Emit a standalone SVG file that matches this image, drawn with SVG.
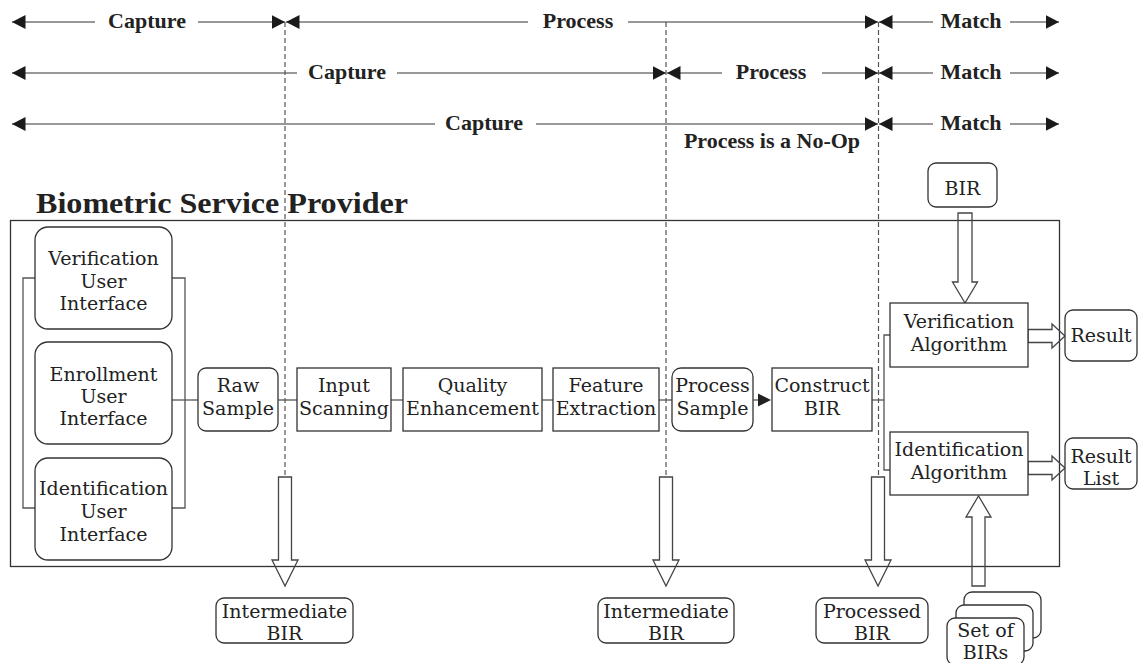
<svg xmlns="http://www.w3.org/2000/svg" xmlns:xlink="http://www.w3.org/1999/xlink" width="1139" height="663" viewBox="0 0 1139 663">
  <style>
    .phase { font-family: "Liberation Serif", "Times New Roman", serif; font-weight: bold; font-size: 22px; fill: #222; text-anchor: middle; }
    .title { font-family: "Liberation Serif", "Times New Roman", serif; font-weight: bold; font-size: 30px; fill: #222; }
    .lbl { font-family: "DejaVu Serif", "Liberation Serif", serif; font-size: 19px; fill: #222; text-anchor: middle; }
    .box { fill: #fff; stroke: #333; stroke-width: 1.3; }
    .frame { fill: none; stroke: #333; stroke-width: 1.3; }
    .link { fill: none; stroke: #555; stroke-width: 1.3; }
    .span1 { fill: none; stroke: #333; stroke-width: 1.2; }
    .span2 { fill: none; stroke: #777; stroke-width: 1.5; }
    .divider { fill: none; stroke: #555; stroke-width: 1.2; stroke-dasharray: 5 3; }
    .block { fill: none; stroke: #444; stroke-width: 1.3; stroke-linejoin: miter; }
  </style>
  <defs>
    <marker id="head" markerUnits="userSpaceOnUse" markerWidth="15" markerHeight="15" refX="13.5" refY="7" orient="auto">
      <path d="M0,0 L13.5,7 L0,14 Z" fill="#1a1a1a"/>
    </marker>
    <!-- hollow block arrows, drawn from their tail -->
    <path id="downArrow" d="M-6.5,0 H6.5 V83 H13 L0,109 L-13,83 H-6.5 Z"/>
    <path id="rightArrow" d="M0,-6.5 H24 V-12 L37,0 L24,12 V6.5 H0 Z"/>
  </defs>

  <!-- phase spans -->
  <g id="phase-spans">
    <!-- row 1 -->
    <path class="span1" d="M95,22 H12" marker-end="url(#head)"/>
    <path class="span1" d="M198,22 H285" marker-end="url(#head)"/>
    <path class="span1" d="M528,22 H286" marker-end="url(#head)"/>
    <path class="span1" d="M628,22 H878" marker-end="url(#head)"/>
    <path class="span1" d="M933,22 H879" marker-end="url(#head)"/>
    <path class="span1" d="M1010,22 H1059" marker-end="url(#head)"/>
    <text class="phase" x="147" y="28">Capture</text>
    <text class="phase" x="578" y="28">Process</text>
    <text class="phase" x="971" y="28">Match</text>
    <!-- row 2 -->
    <path class="span2" d="M297,73 H12" marker-end="url(#head)"/>
    <path class="span2" d="M397,73 H666" marker-end="url(#head)"/>
    <path class="span2" d="M722,73 H667" marker-end="url(#head)"/>
    <path class="span2" d="M822,73 H878" marker-end="url(#head)"/>
    <path class="span2" d="M933,73 H879" marker-end="url(#head)"/>
    <path class="span2" d="M1010,73 H1059" marker-end="url(#head)"/>
    <text class="phase" x="347" y="79">Capture</text>
    <text class="phase" x="771" y="79">Process</text>
    <text class="phase" x="971" y="79">Match</text>
    <!-- row 3 -->
    <path class="span2" d="M435,124 H12" marker-end="url(#head)"/>
    <path class="span2" d="M536,124 H878" marker-end="url(#head)"/>
    <path class="span2" d="M933,124 H879" marker-end="url(#head)"/>
    <path class="span2" d="M1010,124 H1059" marker-end="url(#head)"/>
    <text class="phase" x="484" y="130">Capture</text>
    <text class="phase" x="971" y="130">Match</text>
    <text class="phase" x="772" y="148">Process is a No-Op</text>
  </g>

  <!-- service provider frame -->
  <g id="bsp">
    <text class="title" x="36" y="213" textLength="372" lengthAdjust="spacingAndGlyphs">Biometric Service Provider</text>
    <rect class="frame" x="10.5" y="220.5" width="1049" height="346"/>
  </g>

  <!-- connectors -->
  <g id="connectors">
    <!-- user interface bracket -->
    <path class="link" d="M35,278 H23 V508 H35"/>
    <path class="link" d="M172,278 H185 V508 H172"/>
    <path class="link" d="M172,400 H198"/>
    <path class="link" d="M278,400 H297"/>
    <path class="link" d="M391,400 H403"/>
    <path class="link" d="M542,400 H553"/>
    <path class="link" d="M659,400 H672"/>
    <path class="link" d="M753,400 H760"/>
    <path d="M758,393.5 L771,400 L758,406.5 Z" fill="#222"/>
    <path class="link" d="M872,400 H884"/>
    <path class="link" d="M890,335 H884 V470 H890"/>
    <!-- stage boundaries -->
    <path class="divider" d="M285,22 V477"/>
    <path class="divider" d="M666,22 V477"/>
    <path class="divider" d="M878.5,22 V477"/>
    <!-- BIR outputs -->
    <use xlink:href="#downArrow" class="block" x="285" y="477"/>
    <use xlink:href="#downArrow" class="block" x="666" y="477"/>
    <use xlink:href="#downArrow" class="block" x="878" y="477"/>
    <!-- BIR input to verification -->
    <path class="block" d="M958,213 H972 V282 H977.5 L965,303 L952.5,282 H958 Z"/>
    <!-- set of BIRs to identification -->
    <path class="block" d="M972,586 H985 V517 H991 L978.5,496 L966,517 H972 Z"/>
    <!-- results -->
    <use xlink:href="#rightArrow" class="block" x="1028" y="336"/>
    <use xlink:href="#rightArrow" class="block" x="1028" y="468"/>
  </g>

  <!-- user interfaces -->
  <g id="verification-ui">
    <rect class="box" x="35" y="227" width="137" height="102" rx="13"/>
    <text class="lbl" x="103.5" y="265">Verification</text>
    <text class="lbl" x="103.5" y="288">User</text>
    <text class="lbl" x="103.5" y="310">Interface</text>
  </g>
  <g id="enrollment-ui">
    <rect class="box" x="35" y="342" width="137" height="102" rx="13"/>
    <text class="lbl" x="103.5" y="381">Enrollment</text>
    <text class="lbl" x="103.5" y="403">User</text>
    <text class="lbl" x="103.5" y="425">Interface</text>
  </g>
  <g id="identification-ui">
    <rect class="box" x="35" y="458" width="137" height="102" rx="13"/>
    <text class="lbl" x="103.5" y="495">Identification</text>
    <text class="lbl" x="103.5" y="518">User</text>
    <text class="lbl" x="103.5" y="541">Interface</text>
  </g>

  <!-- capture / process pipeline -->
  <g id="raw-sample">
    <rect class="box" x="198" y="368" width="80" height="63" rx="8"/>
    <text class="lbl" x="238" y="392">Raw</text>
    <text class="lbl" x="238" y="415">Sample</text>
  </g>
  <g id="input-scanning">
    <rect class="box" x="297" y="368" width="94" height="63"/>
    <text class="lbl" x="344" y="392">Input</text>
    <text class="lbl" x="344" y="415">Scanning</text>
  </g>
  <g id="quality-enhancement">
    <rect class="box" x="403" y="368" width="139" height="63"/>
    <text class="lbl" x="472.5" y="392">Quality</text>
    <text class="lbl" x="472.5" y="415">Enhancement</text>
  </g>
  <g id="feature-extraction">
    <rect class="box" x="553" y="368" width="106" height="63"/>
    <text class="lbl" x="606" y="392">Feature</text>
    <text class="lbl" x="606" y="415">Extraction</text>
  </g>
  <g id="process-sample">
    <rect class="box" x="672" y="368" width="81" height="63" rx="9"/>
    <text class="lbl" x="712.5" y="392">Process</text>
    <text class="lbl" x="712.5" y="415">Sample</text>
  </g>
  <g id="construct-bir">
    <rect class="box" x="772" y="368" width="100" height="63"/>
    <text class="lbl" x="822" y="392">Construct</text>
    <text class="lbl" x="822" y="415">BIR</text>
  </g>

  <!-- matching -->
  <g id="bir-input">
    <rect class="box" x="928" y="163" width="69" height="44" rx="8"/>
    <text class="lbl" x="962.5" y="195">BIR</text>
  </g>
  <g id="verification-algorithm">
    <rect class="box" x="890" y="303" width="138" height="64"/>
    <text class="lbl" x="959" y="328">Verification</text>
    <text class="lbl" x="959" y="351">Algorithm</text>
  </g>
  <g id="identification-algorithm">
    <rect class="box" x="890" y="432" width="138" height="63"/>
    <text class="lbl" x="959" y="456">Identification</text>
    <text class="lbl" x="959" y="479">Algorithm</text>
  </g>
  <g id="result">
    <rect class="box" x="1065" y="310" width="72" height="51" rx="8"/>
    <text class="lbl" x="1101" y="342">Result</text>
  </g>
  <g id="result-list">
    <rect class="box" x="1065" y="438" width="72" height="51" rx="8"/>
    <text class="lbl" x="1101" y="463">Result</text>
    <text class="lbl" x="1101" y="485">List</text>
  </g>

  <!-- outputs -->
  <g id="intermediate-bir-1">
    <rect class="box" x="216" y="598" width="137" height="45" rx="8"/>
    <text class="lbl" x="284.5" y="618">Intermediate</text>
    <text class="lbl" x="284.5" y="640">BIR</text>
  </g>
  <g id="intermediate-bir-2">
    <rect class="box" x="598" y="598" width="136" height="45" rx="8"/>
    <text class="lbl" x="666" y="618">Intermediate</text>
    <text class="lbl" x="666" y="640">BIR</text>
  </g>
  <g id="processed-bir">
    <rect class="box" x="816" y="598" width="112" height="45" rx="8"/>
    <text class="lbl" x="872" y="618">Processed</text>
    <text class="lbl" x="872" y="640">BIR</text>
  </g>
  <g id="set-of-birs">
    <rect class="box" x="964" y="592" width="77" height="46" rx="8"/>
    <rect class="box" x="956" y="605" width="77" height="46" rx="8"/>
    <rect class="box" x="947" y="618" width="77" height="47" rx="8"/>
    <text class="lbl" x="985.5" y="637">Set of</text>
    <text class="lbl" x="985.5" y="659">BIRs</text>
  </g>
</svg>
